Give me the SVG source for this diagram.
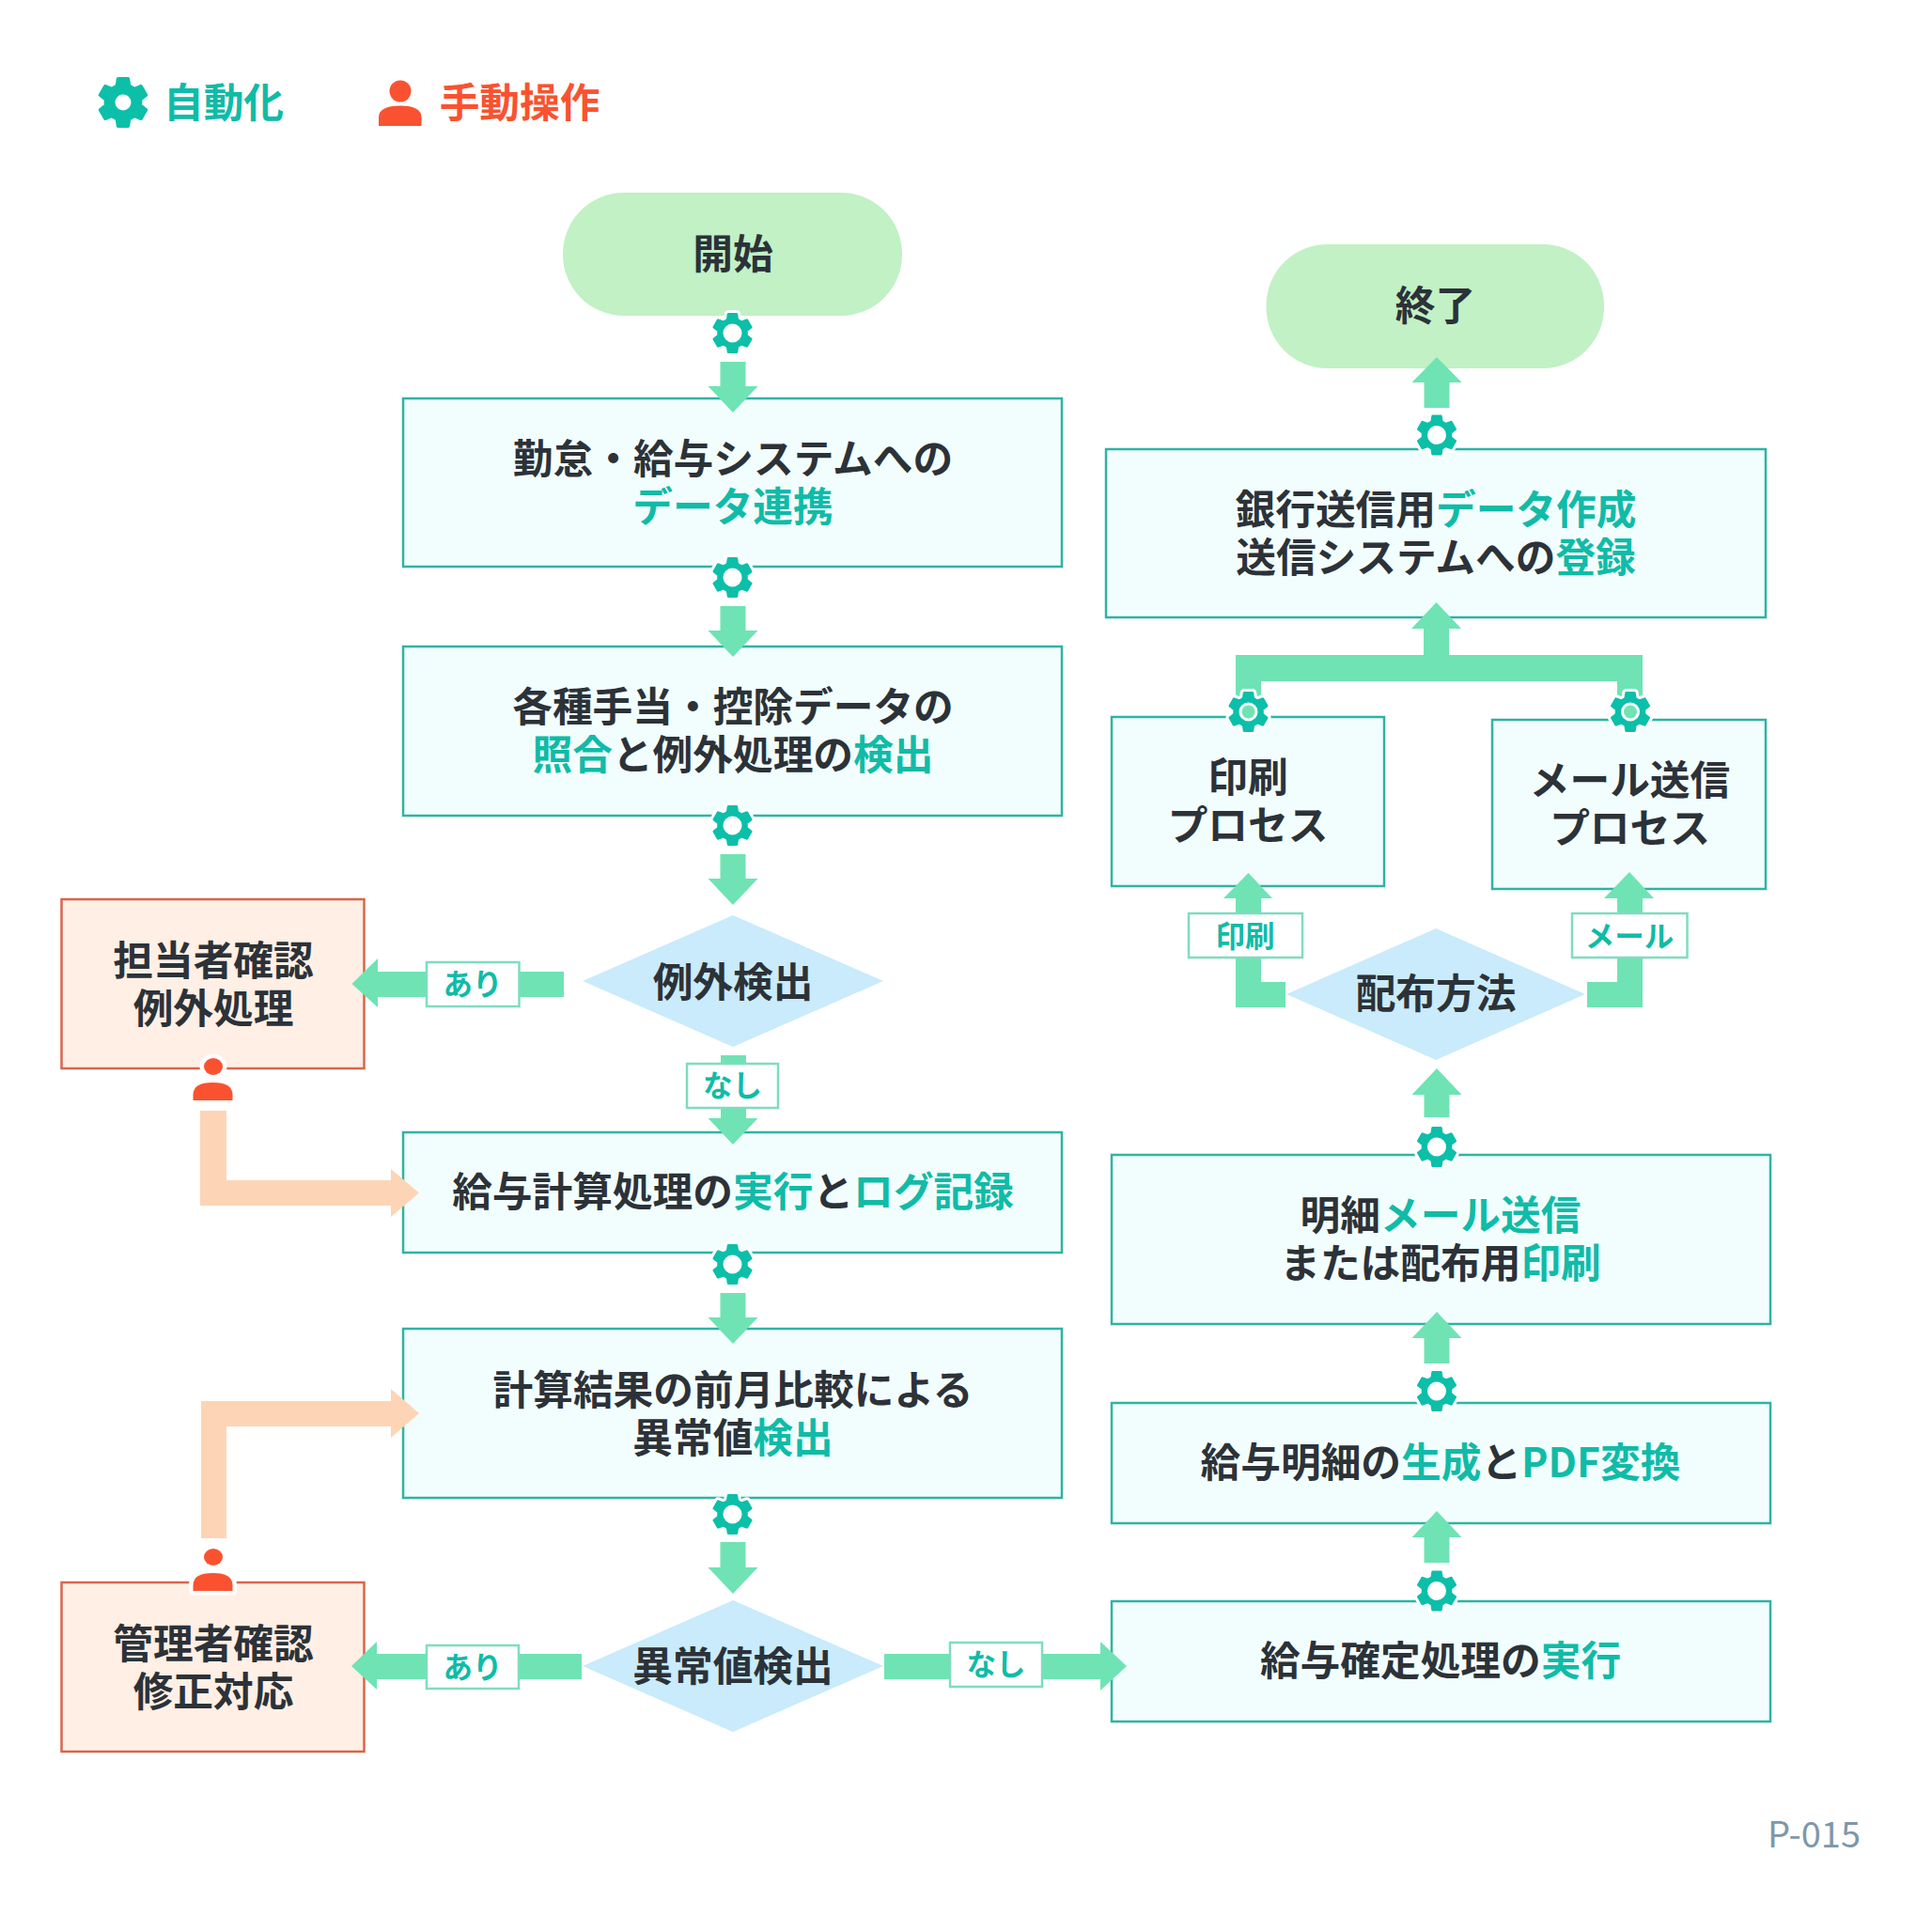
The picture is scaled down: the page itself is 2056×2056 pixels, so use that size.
<svg xmlns="http://www.w3.org/2000/svg" xmlns:xlink="http://www.w3.org/1999/xlink" width="2056" height="2056" viewBox="0 0 2056 2056">
<style>
text{font-family:"Noto Sans CJK JP","Noto Sans",sans-serif;font-weight:700;font-size:42.7px;fill:#2c3238;text-anchor:middle}
.h{fill:#10bba7}
.box{fill:#f2fefe;stroke:#2fb3a4;stroke-width:2.5}
.man{fill:#ffefe4;stroke:#d8664c;stroke-width:2.5}
.pill{fill:#c1f1c5}
.dia{fill:#c9ebfb}
.g{fill:#6fe3b4}
.p{fill:#fdd5b6}
.lab{fill:#fff;stroke:#7fdcc0;stroke-width:2.5}
.lt{font-size:31.5px;fill:#10bba7}
.gear{fill:#0cbfa9;stroke:#0cbfa9;stroke-width:3;stroke-linejoin:round}
.pers{fill:#fa5230}
.phalo{fill:#fff;stroke:#fff;stroke-width:9;stroke-linejoin:round}
</style>
<defs>
<path id="gp" fill-rule="evenodd" d="M-4.26 -20.05L4.26 -20.05L5.13 -14.1L9.64 -11.49L15.23 -13.72L19.5 -6.33L14.77 -2.6L14.77 2.6L19.5 6.33L15.23 13.72L9.64 11.49L5.13 14.1L4.26 20.05L-4.26 20.05L-5.13 14.1L-9.64 11.49L-15.23 13.72L-19.5 6.33L-14.77 2.6L-14.77 -2.6L-19.5 -6.33L-15.23 -13.72L-9.64 -11.49L-5.13 -14.1ZM11.5 0A11.5 11.5 0 1 0 -11.5 0A11.5 11.5 0 1 0 11.5 0Z"/>
<g id="gi">
<use xlink:href="#gp" href="#gp" style="fill:none;stroke:#fff;stroke-width:9;stroke-linejoin:round"/>
<use xlink:href="#gp" href="#gp" class="gear"/>
</g>
<path id="pb" d="M-21 19V13Q-21 0 0 0Q21 0 21 13V19Z"/>
</defs>

<g id="legend">
<g id="legend-auto">
<path transform="translate(131 109) scale(1.25)" class="gear" d="M-4.26 -20.05L4.26 -20.05L5.13 -14.1L9.64 -11.49L15.23 -13.72L19.5 -6.33L14.77 -2.6L14.77 2.6L19.5 6.33L15.23 13.72L9.64 11.49L5.13 14.1L4.26 20.05L-4.26 20.05L-5.13 14.1L-9.64 11.49L-15.23 13.72L-19.5 6.33L-14.77 2.6L-14.77 -2.6L-19.5 -6.33L-15.23 -13.72L-9.64 -11.49L-5.13 -14.1Z"/>
<circle cx="131" cy="109" r="8.5" fill="#fff"/>
<text x="238" y="125" class="h">自動化</text>
</g>
<g id="legend-manual">
<ellipse cx="426" cy="97" rx="11.5" ry="11.5" class="pers"/>
<path class="pers" d="M403 134V125Q403 112.5 426 112.5Q448.5 112.5 448.5 125V134Z"/>
<text x="553" y="125" style="fill:#fa5230">手動操作</text>
</g>
</g>

<g id="nodes">
<g id="start"><rect x="599" y="205" width="361" height="131" rx="65" class="pill"/><text x="780" y="286">開始</text></g>
<g id="n1"><rect x="429" y="424" width="701" height="179" class="box"/><text x="780" y="504">勤怠・給与システムへの</text><text x="780" y="555" class="h">データ連携</text></g>
<g id="n2"><rect x="429" y="688" width="701" height="180" class="box"/><text x="780" y="768">各種手当・控除データの</text><text x="780" y="819"><tspan class="h">照合</tspan>と例外処理の<tspan class="h">検出</tspan></text></g>
<g id="d1"><polygon points="620,1044 780,974 940,1044 780,1114" class="dia"/><text x="780" y="1061">例外検出</text></g>
<g id="m1"><rect x="65.5" y="957" width="322" height="180" class="man"/><text x="227" y="1038">担当者確認</text><text x="227" y="1089">例外処理</text></g>
<g id="n3"><rect x="429" y="1205" width="701" height="128" class="box"/><text x="780" y="1284">給与計算処理の<tspan class="h">実行</tspan>と<tspan class="h">ログ記録</tspan></text></g>
<g id="n4"><rect x="429" y="1414" width="701" height="180" class="box"/><text x="780" y="1495">計算結果の前月比較による</text><text x="780" y="1546">異常値<tspan class="h">検出</tspan></text></g>
<g id="d2"><polygon points="620,1773 780,1703 940,1773 780,1843" class="dia"/><text x="780" y="1789">異常値検出</text></g>
<g id="m2"><rect x="65.5" y="1684" width="322" height="180" class="man"/><text x="227" y="1765">管理者確認</text><text x="227" y="1816">修正対応</text></g>
<g id="n5"><rect x="1183" y="1704" width="701" height="128" class="box"/><text x="1533" y="1783">給与確定処理の<tspan class="h">実行</tspan></text></g>
<g id="n6"><rect x="1183" y="1493" width="701" height="128" class="box"/><text x="1533" y="1572">給与明細の<tspan class="h">生成</tspan>と<tspan class="h">PDF変換</tspan></text></g>
<g id="n7"><rect x="1183" y="1229" width="701" height="180" class="box"/><text x="1533" y="1309">明細<tspan class="h">メール送信</tspan></text><text x="1533" y="1360">または配布用<tspan class="h">印刷</tspan></text></g>
<g id="d3"><polygon points="1369,1058 1528,988 1687,1058 1528,1128" class="dia"/><text x="1528" y="1073">配布方法</text></g>
<g id="n8"><rect x="1183" y="763" width="290" height="180" class="box"/><text x="1328" y="843">印刷</text><text x="1328" y="894">プロセス</text></g>
<g id="n9"><rect x="1588" y="766" width="291" height="180" class="box"/><text x="1734.5" y="846">メール送信</text><text x="1734.5" y="897">プロセス</text></g>
<g id="n10"><rect x="1177" y="478" width="702" height="179" class="box"/><text x="1528" y="558">銀行送信用<tspan class="h">データ作成</tspan></text><text x="1528" y="609">送信システムへの<tspan class="h">登録</tspan></text></g>
<g id="end"><rect x="1347.5" y="260" width="359.5" height="132" rx="65" class="pill"/><text x="1527.5" y="341">終了</text></g>
</g>

<g id="connectors">
<polygon class="g" points="766.5,385 793.5,385 793.5,411 806.5,411 780,439 753.5,411 766.5,411"/>
<polygon class="g" points="766.5,645 793.5,645 793.5,671 806.5,671 780,699 753.5,671 766.5,671"/>
<polygon class="g" points="766.5,909 793.5,909 793.5,935 806.5,935 780,963 753.5,935 766.5,935"/>
<polygon class="g" points="767,1123 794,1123 794,1190 806.5,1190 780,1218 753.5,1190 767,1190"/>
<polygon class="g" points="766.5,1376 793.5,1376 793.5,1402 806.5,1402 780,1430 753.5,1402 766.5,1402"/>
<polygon class="g" points="766.5,1641 793.5,1641 793.5,1668 806.5,1668 780,1696 753.5,1668 766.5,1668"/>
<polygon class="g" points="600,1034 600,1061 402,1061 402,1072 374.5,1047 402,1020 402,1034"/>
<polygon class="g" points="619,1760 619,1787 401,1787 401,1798 374,1773 401,1747 401,1760"/>
<polygon class="g" points="941,1760 941,1787 1171,1787 1171,1799 1199,1773 1171,1747 1171,1760"/>
<polygon class="g" points="1515.5,1663 1542.5,1663 1542.5,1636 1555.5,1636 1529,1608 1502.5,1636 1515.5,1636"/>
<polygon class="g" points="1515.5,1451 1542.5,1451 1542.5,1424 1555.5,1424 1529,1396 1502.5,1424 1515.5,1424"/>
<polygon class="g" points="1515.5,1189 1542.5,1189 1542.5,1165 1555.5,1165 1529,1137 1502.5,1165 1515.5,1165"/>
<polygon class="g" points="1368,1045 1342,1045 1342,956 1354,956 1328.5,929 1302,956 1315,956 1315,1072 1368,1072"/>
<polygon class="g" points="1689,1045 1721,1045 1721,956 1707,956 1734,928 1760,956 1748,956 1748,1072 1689,1072"/>
<polygon class="g" points="1315,770 1315,697 1515,697 1515,669 1502,669 1528.5,641 1555,669 1542,669 1542,697 1748,697 1748,770 1721,770 1721,725 1342,725 1342,770"/>
<polygon class="g" points="1515.5,434 1542.5,434 1542.5,407 1555.5,407 1529,380 1502.5,407 1515.5,407"/>
<polygon class="p" points="213,1182 241,1182 241,1256 416,1256 416,1244 446,1269.5 416,1295 416,1283 213,1283"/>
<polygon class="p" points="214,1637 241,1637 241,1518 416,1518 416,1530 446,1504 416,1478 416,1491 214,1491"/>
<g id="edge-labels">
<g><rect x="454" y="1024" width="98.5" height="47" class="lab"/><text x="503" y="1059" class="lt">あり</text></g>
<g><rect x="731" y="1132" width="97" height="47" class="lab"/><text x="779.5" y="1167" class="lt">なし</text></g>
<g><rect x="454" y="1751" width="98" height="46" class="lab"/><text x="503" y="1786" class="lt">あり</text></g>
<g><rect x="1011" y="1748" width="98" height="47" class="lab"/><text x="1060" y="1783" class="lt">なし</text></g>
<g><rect x="1265" y="972" width="121" height="47" class="lab"/><text x="1325" y="1008" class="lt">印刷</text></g>
<g><rect x="1673" y="972" width="122.5" height="47" class="lab"/><text x="1734" y="1008" class="lt">メール</text></g>
</g>
</g>

<g id="icons">
<use xlink:href="#gi" href="#gi" x="779.5" y="354.5"/>
<use xlink:href="#gi" href="#gi" x="779.5" y="614.5"/>
<use xlink:href="#gi" href="#gi" x="779.5" y="878.5"/>
<use xlink:href="#gi" href="#gi" x="779.5" y="1345.5"/>
<use xlink:href="#gi" href="#gi" x="779.5" y="1611.5"/>
<use xlink:href="#gi" href="#gi" x="1529" y="1693"/>
<use xlink:href="#gi" href="#gi" x="1529" y="1480.5"/>
<use xlink:href="#gi" href="#gi" x="1529" y="1220.5"/>
<use xlink:href="#gi" href="#gi" x="1328.5" y="757.5"/>
<use xlink:href="#gi" href="#gi" x="1735" y="757.5"/>
<use xlink:href="#gi" href="#gi" x="1529" y="463"/>
<g id="person1">
<ellipse cx="227" cy="1135" rx="10" ry="9" class="phalo"/>
<use xlink:href="#pb" href="#pb" x="226.5" y="1152" class="phalo"/>
<ellipse cx="227" cy="1135" rx="10" ry="9" class="pers"/>
<use xlink:href="#pb" href="#pb" x="226.5" y="1152" class="pers"/>
</g>
<g id="person2">
<ellipse cx="227" cy="1657" rx="10" ry="9" class="phalo"/>
<use xlink:href="#pb" href="#pb" x="226.5" y="1674" class="phalo"/>
<ellipse cx="227" cy="1657" rx="10" ry="9" class="pers"/>
<use xlink:href="#pb" href="#pb" x="226.5" y="1674" class="pers"/>
</g>
</g>

<text x="1980" y="1966" style="font-size:38px;font-weight:400;fill:#7f97a8;text-anchor:end">P-015</text>
</svg>
